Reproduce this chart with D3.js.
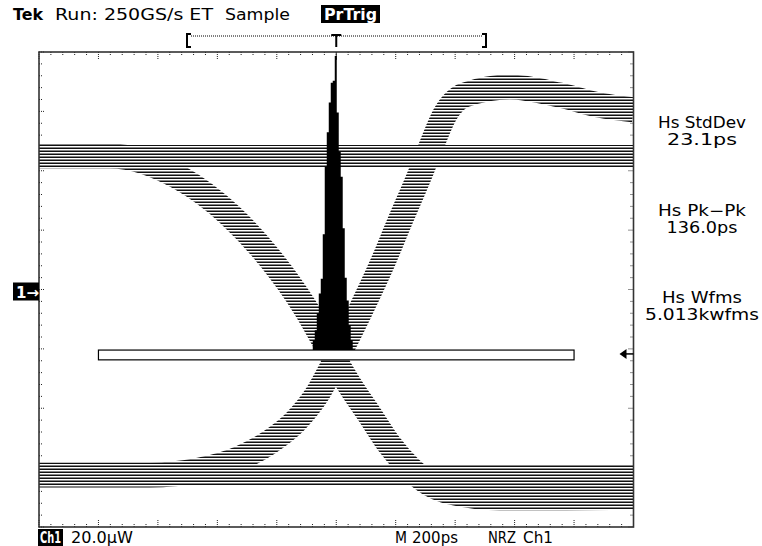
<!DOCTYPE html>
<html>
<head>
<meta charset="utf-8">
<script src="https://cdn.jsdelivr.net/npm/d3@7"></script>
<style>
body { margin: 0; background: #fff; }
text { font-family: "DejaVu Sans", sans-serif; font-size: 15px; fill: #000; }
</style>
</head>
<body>
<svg id="scope" width="762" height="546"></svg>
<script>
// eye traces: time in ps from trigger, power in uW from the ch1 reference
const levelHi = 45.0
const levelLo = -62.5

const risingT = [-1000, -627, -459, -324, -224, -139, -62, -5, 79, 153, 213, 281, 321, 365, 432, 583, 751, 886, 1000]
const risingP = [-62.5, -62.5, -60.8, -56.8, -51.4, -44.6, -34.9, -24.4, -7.6, 8.3, 22.7, 38.6, 48.7, 58.8, 65.5, 68.2, 65.5, 62.1, 60.5]

const fallingT = [-1000, -761, -526, -358, -224, -106, -5, 45, 113, 180, 247, 314, 415, 550, 751, 1000]
const fallingP = [45.0, 45.0, 37.6, 25.1, 10.6, -5.9, -23.7, -32.2, -42.3, -52.4, -60.1, -65.5, -68.9, -70.2, -70.2, -69.9]

// jitter histogram (bin start in ps, hits)
const histBinPs = [-79, -72.3, -65.5, -58.8, -52.1, -45.4, -38.7, -31.9, -25.2, -18.5, -11.8, -5, 1.7, 8.4, 15.1, 21.8, 28.6, 35.3, 42, 48.7]
const histCounts = [10, 20, 37, 57, 72, 117, 185, 220, 250, 270, 272, 297, 240, 200, 175, 123, 73, 50, 25, 10]
const histBinWidth = 6.72
const histWindowT = [-800, 800]
const histWindowP = [-20.4, -23.7]
const trigLevelP = -21.7

// readouts
const measLabels = ["Hs StdDev", "Hs Pk\u2212Pk", "Hs Wfms"]
const measValues = ["23.1ps", "136.0ps", "5.013kwfms"]

const svg = d3.select("#scope")
const scrL = 39, scrR = 633.5, scrT = 52, scrB = 527

let x = d3.scaleLinear().domain([-1000, 1000]).range([scrL, scrR])
let y = d3.scaleLinear().domain([-80, 80]).range([scrB, scrT])

let defs = svg.append("defs")
let pat = defs.append("pattern").attr("id", "trace")
    .attr("patternUnits", "userSpaceOnUse").attr("width", 8).attr("height", 3)
pat.append("rect").attr("width", 8).attr("height", 3).attr("fill", "#fff")
pat.append("rect").attr("y", 0).attr("width", 8).attr("height", 1).attr("fill", "#858585")
pat.append("rect").attr("y", 1).attr("width", 8).attr("height", 1).attr("fill", "#111")
defs.append("clipPath").attr("id", "screen").append("rect")
    .attr("x", scrL).attr("y", scrT).attr("width", scrR - scrL).attr("height", scrB - scrT)

// graticule edge ticks
let grat = svg.append("g").attr("stroke", "#222").attr("stroke-width", 1)
d3.range(-1000, 1001, 40).forEach(t => {
    let major = t % 200 == 0
    let len = major ? 7 : 3
    grat.append("line").attr("x1", x(t)).attr("x2", x(t))
        .attr("y1", scrT).attr("y2", scrT + len).attr("stroke-dasharray", "1,1")
    grat.append("line").attr("x1", x(t)).attr("x2", x(t))
        .attr("y1", scrB).attr("y2", scrB - len).attr("stroke-dasharray", "1,1")
})
d3.range(-80, 81, 4).forEach(p => {
    let major = p % 20 == 0
    let len = major ? 5 : 3
    grat.append("line").attr("y1", y(p)).attr("y2", y(p))
        .attr("x1", scrL).attr("x2", scrL + len).attr("stroke-dasharray", "1,1")
    grat.append("line").attr("y1", y(p)).attr("y2", y(p))
        .attr("x1", scrR).attr("x2", scrR - len).attr("stroke-dasharray", "1,1")
})
grat.append("line").attr("x1", x(0)).attr("x2", x(0)).attr("y1", scrT).attr("y2", scrT + 8)

// eye traces
let lnMkr = d3.line().curve(d3.curveMonotoneX).x(d => x(d.t)).y(d => y(d.p))
let traces = [
    x.domain().map(t => ({ t: t, p: levelHi })),
    x.domain().map(t => ({ t: t, p: levelLo })),
    fallingT.map((t, i) => ({ t: t, p: fallingP[i] })),
    risingT.map((t, i) => ({ t: t, p: risingP[i] }))
]
svg.append("g").attr("clip-path", "url(#screen)")
    .selectAll("path").data(traces).enter().append("path")
    .attr("d", lnMkr)
    .attr("fill", "none")
    .attr("stroke", "url(#trace)")
    .attr("stroke-width", (d, i) => i < 2 ? 22 : 25)

// histogram window
svg.append("rect")
    .attr("x", x(histWindowT[0])).attr("y", y(histWindowP[0]))
    .attr("width", x(histWindowT[1]) - x(histWindowT[0]))
    .attr("height", y(histWindowP[1]) - y(histWindowP[0]))
    .attr("fill", "#fff").attr("stroke", "#000").attr("stroke-width", 1.2)

// histogram as one stepped area
let base = y(histWindowP[0])
let hy = d3.scaleLinear().domain([0, 300]).range([base, scrT + 1])
let histPts = histCounts.map((c, i) => ({ t: histBinPs[i], c: c }))
histPts.push({ t: histBinPs[histBinPs.length - 1] + histBinWidth, c: 0 })
let histArea = d3.area().curve(d3.curveStepAfter)
    .x(d => x(d.t)).y0(base).y1(d => hy(d.c))
svg.append("path").attr("d", histArea(histPts)).attr("fill", "#000")

// frame
svg.append("rect").attr("x", scrL).attr("y", scrT)
    .attr("width", scrR - scrL).attr("height", scrB - scrT)
    .attr("fill", "none").attr("stroke", "#333").attr("stroke-width", 1.6)

// channel marker and trigger level arrow
svg.append("rect").attr("x", 13).attr("y", y(0) - 7).attr("width", 26).attr("height", 18).attr("fill", "#000")
svg.append("text").attr("x", 16).attr("y", y(0) + 8).style("fill", "#fff").style("font-weight", "bold").text("1\u2192")
let ty = y(trigLevelP)
svg.append("path").attr("d", `M${scrR - 14},${ty} L${scrR - 7},${ty - 5} L${scrR - 7},${ty + 5} Z`).attr("fill", "#000")
svg.append("line").attr("x1", scrR - 8).attr("x2", scrR).attr("y1", ty).attr("y2", ty).attr("stroke", "#000").attr("stroke-width", 1.5)

// header
function label(txt, tx, ty, w, opts) {
    let el = svg.append("text").attr("x", tx).attr("y", ty).text(txt)
    if (w) el.attr("textLength", w).attr("lengthAdjust", "spacingAndGlyphs")
    if (opts && opts.bold) el.style("font-weight", "bold")
    if (opts && opts.white) el.style("fill", "#fff")
    if (opts && opts.anchor) el.attr("text-anchor", opts.anchor)
    return el
}
label("Tek", 13, 20, 30, { bold: true })
label("Run: 250GS/s ET", 55, 20, 158)
label("Sample", 225, 20, 65)
svg.append("rect").attr("x", 321).attr("y", 5).attr("width", 59).attr("height", 18).attr("fill", "#000")
label("PrTrig", 324, 20, 53, { bold: true, white: true })

// record view bracket
let rb = svg.append("g").attr("stroke", "#000").attr("fill", "none")
rb.append("path").attr("d", "M191,34 H187 V47 H191").attr("stroke-width", 2)
rb.append("path").attr("d", "M482,34 H486 V47 H482").attr("stroke-width", 2)
rb.append("line").attr("x1", 191).attr("x2", 482).attr("y1", 36).attr("y2", 36).attr("stroke-dasharray", "1,1")
rb.append("path").attr("d", `M${x(0) - 5},35 H${x(0) + 5} M${x(0)},35 V47`).attr("stroke-width", 2)

// readouts
let measY = [128, 216, 303]
measLabels.forEach((m, i) => {
    label(m, 702, measY[i], [88, 88, 80][i], { anchor: "middle" })
    label(measValues[i], 702, measY[i] + 17, [70, 71, 114][i], { anchor: "middle" })
})

// bottom status line
svg.append("rect").attr("x", 38).attr("y", 529).attr("width", 25).attr("height", 17).attr("fill", "#000")
label("Ch1", 40, 543, 21, { bold: true, white: true })
label("20.0\u00b5W", 71, 543, 62)
label("M", 395, 543, 12)
label("200ps", 412, 543, 46)
label("NRZ", 488, 543, 28)
label("Ch1", 523, 543, 30)
</script>
</body>
</html>
